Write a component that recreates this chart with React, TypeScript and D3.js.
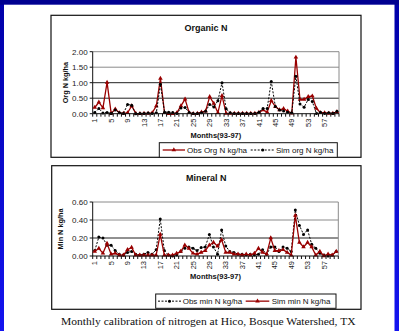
import React from 'react';
import * as d3 from 'd3';

// months 1..60 (1993-1997)
const months = d3.range(1, 61);
const monthTickLabels = [1, 5, 9, 13, 17, 21, 25, 29, 33, 37, 41, 45, 49, 53, 57];

const orgTicks = [0, 0.5, 1, 1.5, 2];
const minTicks = [0, 0.2, 0.4, 0.6];

const obsOrgN = [
    0.20, 0.37, 0.19, 1.01, 0.01, 0.15, 0.03, 0.01, 0.03, 0.25,
    0.01, 0.00, 0.01, 0.01, 0.03, 0.25, 1.14, 0.03, 0.00, 0.00,
    0.03, 0.25, 0.47, 0.03, 0.00, 0.01, 0.05, 0.08, 0.55, 0.33,
    0.03, 0.58, 0.01, 0.01, 0.01, 0.01, 0.01, 0.01, 0.01, 0.01,
    0.04, 0.12, 0.05, 0.42, 0.23, 0.12, 0.16, 0.08, 0.02, 1.82,
    0.46, 0.46, 0.55, 0.57, 0.17, 0.03, 0.03, 0.01, 0.01, 0.06
];
const simOrgN = [
    0.04, 0.17, 0.02, 0.04, 0.01, 0.12, 0.03, 0.01, 0.30, 0.27,
    0.00, 0.01, 0.01, 0.02, 0.01, 0.03, 0.95, 0.05, 0.05, 0.04,
    0.01, 0.18, 0.20, 0.04, 0.01, 0.01, 0.03, 0.08, 0.30, 0.22,
    0.42, 1.00, 0.16, 0.03, 0.01, 0.01, 0.01, 0.01, 0.01, 0.01,
    0.05, 0.17, 0.17, 1.04, 0.23, 0.12, 0.09, 0.05, 0.03, 1.21,
    0.31, 0.21, 0.46, 0.39, 0.01, 0.05, 0.01, 0.03, 0.01, 0.08
];
const obsMinN = [
    0.06, 0.21, 0.20, 0.12, 0.12, 0.06, 0.02, 0.01, 0.04, 0.05,
    0.02, 0.01, 0.02, 0.04, 0.02, 0.07, 0.41, 0.06, 0.01, 0.00,
    0.01, 0.05, 0.085, 0.10, 0.085, 0.06, 0.095, 0.10, 0.24, 0.10,
    0.02, 0.29, 0.11, 0.05, 0.04, 0.02, 0.02, 0.01, 0.02, 0.01,
    0.02, 0.07, 0.02, 0.10, 0.10, 0.05, 0.10, 0.085, 0.05, 0.51,
    0.34, 0.24, 0.29, 0.13, 0.085, 0.03, 0.01, 0.00, 0.01, 0.05
];
const simMinN = [
    0.05, 0.085, 0.03, 0.14, 0.02, 0.03, 0.01, 0.01, 0.07, 0.095,
    0.01, 0.01, 0.01, 0.01, 0.01, 0.01, 0.24, 0.01, 0.01, 0.01,
    0.03, 0.05, 0.12, 0.085, 0.03, 0.02, 0.04, 0.06, 0.12, 0.15,
    0.11, 0.18, 0.04, 0.04, 0.02, 0.02, 0.01, 0.02, 0.01, 0.03,
    0.085, 0.04, 0.02, 0.20, 0.06, 0.06, 0.07, 0.04, 0.01, 0.45,
    0.15, 0.10, 0.15, 0.10, 0.01, 0.05, 0.00, 0.02, 0.01, 0.05
];

const RED = '#990000';
const FONT = 'Liberation Sans, Arial, sans-serif';

const triangle = d3.symbol().type(d3.symbolTriangle).size(9)();

/** one framed excel-style line chart */
const LineChart = ({box, plot, title, yLabel, yLabelX, yTicks, fmt, series, legend, xTitleY}) => {
    const x = d3.scaleBand().domain(months).range([plot.left, plot.right]).padding(0);
    const y = d3.scaleLinear().domain([yTicks[0], yTicks[yTicks.length - 1]]).range([plot.bottom, plot.top]);
    const line = d3.line().x((d, i) => x(months[i]) + x.bandwidth() / 2).y((d) => y(d));

    const drawSeries = (s) => (
        <g key={s.label}>
            <path d={line(s.values)} fill="none" stroke={s.color}
                  strokeWidth={s.dashed ? 1 : 1.3} strokeDasharray={s.dashed ? '2,1.5' : null}/>
            {s.values.map((v, i) => {
                const cx = x(months[i]) + x.bandwidth() / 2;
                return s.marker === 'tri'
                    ? <path key={i} d={triangle} transform={`translate(${cx},${y(v)})`} fill={s.color}/>
                    : <circle key={i} cx={cx} cy={y(v)} r={1.5} fill={s.color}/>;
            })}
        </g>
    );

    const legendSample = (s, it) => {
        const midY = (legend.y0 + legend.y1) / 2;
        const mx = (it.x0 + it.x1) / 2;
        return (
            <g key={s.label}>
                <line x1={it.x0} x2={it.x1} y1={midY} y2={midY} stroke={s.color}
                      strokeWidth={s.dashed ? 1 : 1.3} strokeDasharray={s.dashed ? '2,1.5' : null}/>
                {s.marker === 'tri'
                    ? <path d={triangle} transform={`translate(${mx},${midY})`} fill={s.color}/>
                    : <circle cx={mx} cy={midY} r={1.5} fill={s.color}/>}
                <text x={it.textX} y={midY} dy="0.35em" fontSize={8} fontFamily={FONT} fill="#111">{s.label}</text>
            </g>
        );
    };

    return (
        <g>
            <rect x={box.x0} y={box.y0} width={box.x1 - box.x0} height={box.y1 - box.y0}
                  fill="white" stroke="#111" strokeWidth={1.2}/>
            <text x={(box.x0 + box.x1) / 2} y={box.y0 + 15.5} textAnchor="middle" fontSize={9}
                  fontWeight="bold" fontFamily={FONT} fill="#111">{title}</text>

            {/* grid lines */}
            {yTicks.slice(1).map((t, i) => (
                <line key={t} x1={plot.left} x2={plot.right} y1={y(t)} y2={y(t)}
                      stroke={i >= yTicks.length - 3 ? '#8a8a8a' : '#222'} strokeWidth={1}/>
            ))}
            <line x1={plot.right} x2={plot.right} y1={plot.top} y2={plot.bottom} stroke="#8a8a8a"/>

            {/* y axis */}
            <line x1={plot.left} x2={plot.left} y1={plot.top} y2={plot.bottom} stroke="#111"/>
            {yTicks.map((t) => (
                <g key={t}>
                    <line x1={plot.left - 3} x2={plot.left} y1={y(t)} y2={y(t)} stroke="#111"/>
                    <text x={plot.left - 5} y={y(t)} dy="0.35em" textAnchor="end" fontSize={8}
                          fontFamily={FONT} fill="#222">{fmt(t)}</text>
                </g>
            ))}
            <text transform={`translate(${yLabelX},${(plot.top + plot.bottom) / 2}) rotate(-90)`}
                  textAnchor="middle" fontSize={7.3} fontWeight="bold" fontFamily={FONT} fill="#111">{yLabel}</text>

            {series.map(drawSeries)}

            {/* x axis */}
            <line x1={plot.left} x2={plot.right} y1={plot.bottom} y2={plot.bottom} stroke="#111"/>
            {months.map((m) => (
                <line key={m} x1={x(m)} x2={x(m)} y1={plot.bottom} y2={plot.bottom + 3} stroke="#111"/>
            ))}
            <line x1={plot.right} x2={plot.right} y1={plot.bottom} y2={plot.bottom + 3} stroke="#111"/>
            {monthTickLabels.map((m) => (
                <text key={m} transform={`translate(${x(m) + x.bandwidth() / 2},${plot.bottom + 5}) rotate(-90)`}
                      dy="0.35em" textAnchor="end" fontSize={7.5} fontFamily={FONT} fill="#222">{m}</text>
            ))}
            <text x={(plot.left + plot.right) / 2} y={xTitleY} textAnchor="middle" fontSize={7.5}
                  fontWeight="bold" fontFamily={FONT} fill="#111">Months(93-97)</text>

            {/* legend */}
            <rect x={legend.x0} y={legend.y0} width={legend.x1 - legend.x0} height={legend.y1 - legend.y0}
                  fill="white" stroke="#111" strokeWidth={1}/>
            {series.map((s, i) => legendSample(s, legend.items[i]))}
        </g>
    );
};

export default function App() {
    const W = 399, H = 331;
    return (
        <svg width={W} height={H} style={{position: 'fixed', left: 0, top: 0}}>
            <defs>
                <linearGradient id="frame" x1="0" y1="0" x2="0" y2="1">
                    <stop offset="0" stopColor="#0000a8"/>
                    <stop offset="1" stopColor="#1414f0"/>
                </linearGradient>
            </defs>
            <rect x={0} y={0} width={W} height={H} fill="url(#frame)"/>
            <rect x={0} y={0} width={W} height={4.7} fill="#000090"/>
            <rect x={4} y={4.7} width={390.5} height={H - 4.7} fill="white"/>

            <LineChart
                box={{x0: 51, y0: 15.3, x1: 361, y1: 157.3}}
                plot={{left: 92.7, right: 339, top: 51.7, bottom: 113.7}}
                title="Organic N"
                yLabel="Org N kg/ha"
                yLabelX={68.3}
                yTicks={orgTicks}
                fmt={d3.format('.2f')}
                xTitleY={138.3}
                series={[
                    {label: 'Obs Org N kg/ha', values: obsOrgN, color: RED, marker: 'tri', dashed: false},
                    {label: 'Sim org N kg/ha', values: simOrgN, color: '#000', marker: 'dot', dashed: true}
                ]}
                legend={{
                    x0: 159.3, y0: 142.7, x1: 337.3, y1: 157.3,
                    items: [{x0: 162.7, x1: 185, textX: 187}, {x0: 250.7, x1: 274.7, textX: 276}]
                }}
            />

            <LineChart
                box={{x0: 51.7, y0: 165.7, x1: 361, y1: 309.3}}
                plot={{left: 92.7, right: 338.3, top: 202, bottom: 256}}
                title="Mineral N"
                yLabel="Min N kg/ha"
                yLabelX={62.5}
                yTicks={minTicks}
                fmt={d3.format('.2f')}
                xTitleY={279.3}
                series={[
                    {label: 'Obs min N kg/ha', values: obsMinN, color: '#000', marker: 'dot', dashed: true},
                    {label: 'Sim min N kg/ha', values: simMinN, color: RED, marker: 'tri', dashed: false}
                ]}
                legend={{
                    x0: 155.7, y0: 294, x1: 336, y1: 308.3,
                    items: [{x0: 158, x1: 181, textX: 182.7}, {x0: 245.7, x1: 269.3, textX: 271.7}]
                }}
            />

            <text x={208.3} y={325} textAnchor="middle" fontSize={10} textLength={294.5}
                  lengthAdjust="spacingAndGlyphs" fontFamily="Liberation Serif, Times New Roman, serif"
                  fill="#111">Monthly calibration of nitrogen at Hico, Bosque Watershed, TX</text>
        </svg>
    );
}
